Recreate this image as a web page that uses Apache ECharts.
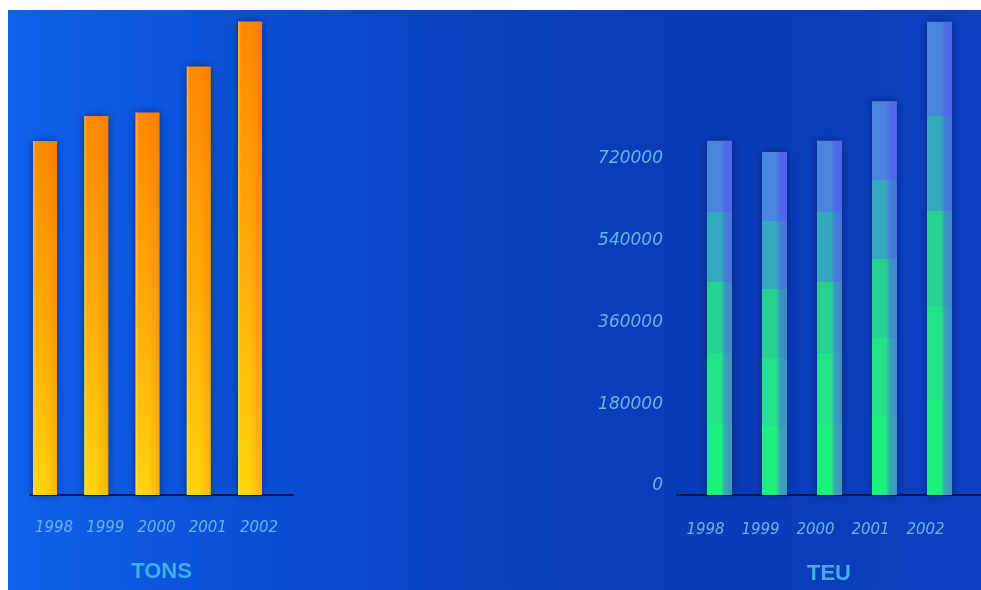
<!DOCTYPE html>
<html>
<head>
<meta charset="utf-8">
<script src="https://cdn.jsdelivr.net/npm/echarts@6/dist/echarts.min.js"></script>
<style>
html,body{margin:0;padding:0;background:#ffffff;width:981px;height:590px;overflow:hidden;}
#chart{position:absolute;left:8px;top:10px;width:973px;height:580px;}
</style>
</head>
<body>
<div id="chart"></div>
<script>
// ---- data ----
const years = ['1998', '1999', '2000', '2001', '2002'];
const tonsValues = [7080, 7580, 7650, 8570, 9470];          // left chart (no value scale shown)
const teuValues = [780000, 755000, 780000, 867000, 1042000]; // right chart
const teuTickLabels = [0, 180000, 360000, 540000, 720000];

const chart = echarts.init(document.getElementById('chart'));

const baseLabel = {
  fontFamily: 'DejaVu Sans',
  fontStyle: 'italic',
  fontSize: 15,
  color: '#66b4ec'
};
const titleStyle = {
  fontFamily: 'Liberation Sans',
  fontWeight: 'bold',
  fontSize: 22,
  color: '#3fb0e6',
  verticalAlign: 'middle'
};
const axisLineStyle = { show: true, onZero: false, lineStyle: { color: '#07173f', width: 2 } };

const option = {
  animation: false,
  backgroundColor: {
    type: 'linear', x: 0, y: 0, x2: 1, y2: 0,
    colorStops: [
      { offset: 0, color: '#0f62ea' },
      { offset: 0.25, color: '#0b4fd6' },
      { offset: 0.5, color: '#0a40bd' },
      { offset: 0.75, color: '#0a3bb6' },
      { offset: 1, color: '#0d40c2' }
    ]
  },
  grid: [
    { left: 11.4, width: 256.25, top: 10, bottom: 95 },
    { left: 22, width: 263, top: 10, bottom: 95 },
    { left: 684, width: 275, top: 3.6, bottom: 95 },
    { left: 669, right: 0, top: 3.6, bottom: 95 }
  ],
  xAxis: [
    { gridIndex: 0, type: 'category', data: years, axisLine: { show: false }, axisTick: { show: false },
      axisLabel: Object.assign({}, baseLabel, { margin: 26, padding: [0, 0, 0, 18] }) },
    { gridIndex: 1, type: 'value', min: 0, max: 1, axisLine: axisLineStyle, axisTick: { show: false },
      axisLabel: { show: false }, splitLine: { show: false },
      name: 'TONS', nameLocation: 'middle', nameGap: 77, nameTextStyle: titleStyle },
    { gridIndex: 2, type: 'category', data: years, axisLine: { show: false }, axisTick: { show: false },
      axisLabel: Object.assign({}, baseLabel, { margin: 28, padding: [0, 28, 0, 0] }) },
    { gridIndex: 3, type: 'value', min: 0, max: 1, axisLine: axisLineStyle, axisTick: { show: false },
      axisLabel: { show: false }, splitLine: { show: false },
      name: 'TEU', nameLocation: 'middle', nameGap: 79, nameTextStyle: titleStyle }
  ],
  yAxis: [
    { gridIndex: 0, type: 'value', min: 0, max: 9500, show: false },
    { gridIndex: 1, type: 'value', min: 0, max: 1, show: false },
    { gridIndex: 2, type: 'value', min: 0, max: 1060000, interval: 180000,
      axisLine: { show: false }, axisTick: { show: false }, splitLine: { show: false },
      axisLabel: Object.assign({}, baseLabel, {
        formatter: v => teuTickLabels.indexOf(v) >= 0 ? String(v) + '\n ' : '',
        fontSize: 17, lineHeight: 18, margin: 29
      }) },
    { gridIndex: 3, type: 'value', min: 0, max: 1, show: false }
  ],
  series: [
    {
      type: 'bar', xAxisIndex: 0, yAxisIndex: 0, data: tonsValues, barWidth: 24,
      itemStyle: {
        color: { type: 'linear', x: 0, y: 0, x2: 0, y2: 1,
          colorStops: [{ offset: 0, color: '#ff8800' }, { offset: 0.5, color: '#ffaa08' }, { offset: 1, color: '#ffd40e' }] },
        shadowBlur: 8, shadowColor: 'rgba(0,10,60,0.55)'
      }
    },
    {
      type: 'bar', xAxisIndex: 0, yAxisIndex: 0, data: tonsValues, barWidth: 24, barGap: '-100%', silent: true,
      itemStyle: {
        color: { type: 'linear', x: 0, y: 0, x2: 1, y2: 0,
          colorStops: [
            { offset: 0, color: 'rgba(255,240,170,0.45)' },
            { offset: 0.12, color: 'rgba(255,240,170,0)' },
            { offset: 0.5, color: 'rgba(235,100,0,0)' },
            { offset: 1, color: 'rgba(235,100,0,0.3)' }
          ] }
      }
    },
    {
      type: 'bar', xAxisIndex: 2, yAxisIndex: 2, data: teuValues, barWidth: 25,
      itemStyle: {
        color: { type: 'linear', x: 0, y: 0, x2: 0, y2: 1,
          colorStops: [
            { offset: 0, color: '#4a84de' }, { offset: 0.2, color: '#4a84de' },
            { offset: 0.2, color: '#34a8bc' }, { offset: 0.4, color: '#34a8bc' },
            { offset: 0.4, color: '#26d290' }, { offset: 0.6, color: '#26d290' },
            { offset: 0.6, color: '#22e486' }, { offset: 0.8, color: '#22e486' },
            { offset: 0.8, color: '#1ef07c' }, { offset: 1, color: '#1ef07c' }
          ] },
        shadowBlur: 8, shadowColor: 'rgba(0,10,60,0.5)'
      }
    },
    {
      type: 'bar', xAxisIndex: 2, yAxisIndex: 2, data: teuValues, barWidth: 25, barGap: '-100%', silent: true,
      itemStyle: {
        color: { type: 'linear', x: 0, y: 0, x2: 1, y2: 0,
          colorStops: [
            { offset: 0, color: 'rgba(90,90,255,0)' },
            { offset: 0.55, color: 'rgba(90,90,255,0)' },
            { offset: 0.72, color: 'rgba(85,75,250,0.45)' },
            { offset: 1, color: 'rgba(85,75,250,0.55)' }
          ] }
      }
    }
  ]
};
chart.setOption(option);
</script>
</body>
</html>
